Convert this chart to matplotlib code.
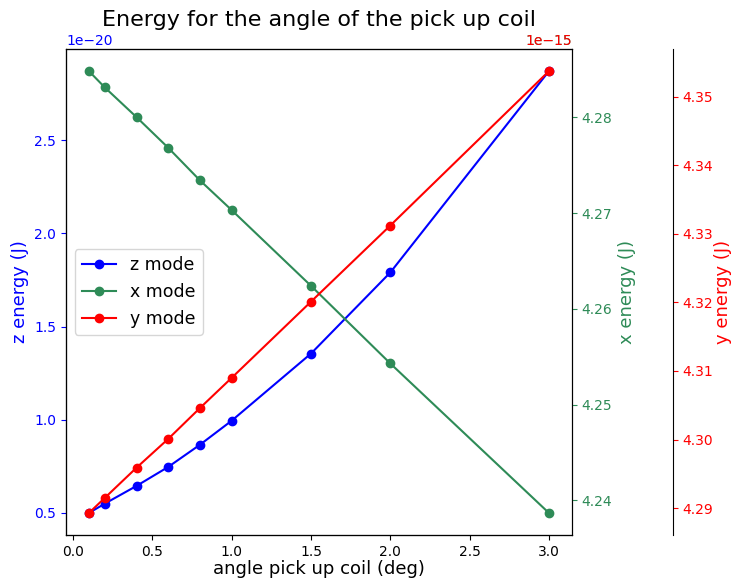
import matplotlib
matplotlib.use("Agg")
import matplotlib.pyplot as plt

# pick-up coil angle (deg) and energies
angle = [0.1, 0.2, 0.4, 0.6, 0.8, 1.0, 1.5, 2.0, 3.0]
z_energy = [0.500e-20, 0.550e-20, 0.645e-20, 0.747e-20, 0.866e-20,
            0.995e-20, 1.355e-20, 1.790e-20, 2.870e-20]
x_energy = [4.2848e-15, 4.2831e-15, 4.2800e-15, 4.2768e-15, 4.2734e-15,
            4.2703e-15, 4.2624e-15, 4.2543e-15, 4.2387e-15]
y_energy = [4.2893e-15, 4.2915e-15, 4.2959e-15, 4.3001e-15, 4.3046e-15,
            4.3090e-15, 4.3201e-15, 4.3312e-15, 4.3537e-15]

GREEN = "seagreen"

fig = plt.figure(figsize=(7.31, 5.84), dpi=100)
ax1 = fig.add_axes([0.0903, 0.0839, 0.692, 0.832])
ax2 = ax1.twinx()
ax3 = ax1.twinx()
ax3.spines["right"].set_position(("axes", 1.2))

l1, = ax1.plot(angle, z_energy, "o-", color="blue", label="z mode")
l2, = ax2.plot(angle, x_energy, "o-", color=GREEN, label="x mode")
l3, = ax3.plot(angle, y_energy, "o-", color="red", label="y mode")

ax1.set_xlabel("angle pick up coil (deg)", fontsize=13, labelpad=1)
ax1.set_ylabel("z energy (J)", color="blue", fontsize=13)
ax2.set_ylabel("x energy (J)", color=GREEN, fontsize=13)
ax3.set_ylabel("y energy (J)", color="red", fontsize=13, labelpad=0)
ax1.tick_params(axis="y", colors="blue")
ax2.tick_params(axis="y", colors=GREEN)
ax3.tick_params(axis="y", colors="red")
ax1.yaxis.get_offset_text().set_color("blue")
ax2.yaxis.get_offset_text().set_color(GREEN)
ax3.yaxis.get_offset_text().set_color("red")

ax1.set_title("Energy for the angle of the pick up coil", fontsize=16)
ax3.legend(handles=[l1, l2, l3], loc="center left", fontsize=12.5)

fig.savefig("out.png", dpi=100)
